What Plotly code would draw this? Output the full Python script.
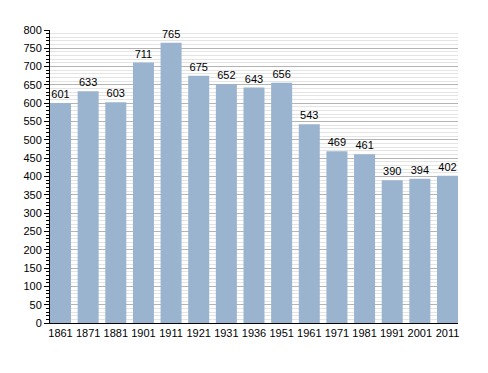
import plotly.graph_objects as go

years = ["1861", "1871", "1881", "1901", "1911", "1921", "1931", "1936", "1951",
         "1961", "1971", "1981", "1991", "2001", "2011"]
population = [601, 633, 603, 711, 765, 675, 652, 643, 656, 543, 469, 461, 390, 394, 402]

fig = go.Figure(go.Bar(
    x=years, y=population,
    text=[str(v) for v in population],
    textposition="outside",
    textfont=dict(family="Liberation Sans, Arial", size=11, color="#000000"),
    marker=dict(color="#9ab3cf", line=dict(width=0)),
    cliponaxis=False,
))

# page body has an 8px default margin, compensate in the figure margins
fig.update_layout(
    width=488, height=373,
    margin=dict(l=42, r=38, t=22, b=58, autoexpand=False),
    plot_bgcolor="white", paper_bgcolor="white",
    bargap=0.24,
    showlegend=False,
    font=dict(family="Liberation Sans, Arial", size=11, color="#000000"),
)
fig.update_xaxes(
    type="category",
    range=[-0.38, 14.38],
    showline=True, linecolor="#000000", linewidth=1,
    ticks="", showgrid=False,
    tickfont=dict(size=11),
    automargin=False,
)
fig.update_yaxes(
    range=[0, 800],
    dtick=50, tick0=0,
    showline=True, linecolor="#000000", linewidth=1,
    ticks="outside", ticklen=5, tickcolor="#000000",
    showgrid=True, gridcolor="#b4b4b4", gridwidth=1,
    zeroline=False,
    tickfont=dict(size=11),
    automargin=False,
    minor=dict(dtick=10, showgrid=True, gridcolor="#e4e4e4", gridwidth=1,
               ticks="outside", ticklen=3, tickcolor="#000000"),
)

fig.write_html("out.html")
